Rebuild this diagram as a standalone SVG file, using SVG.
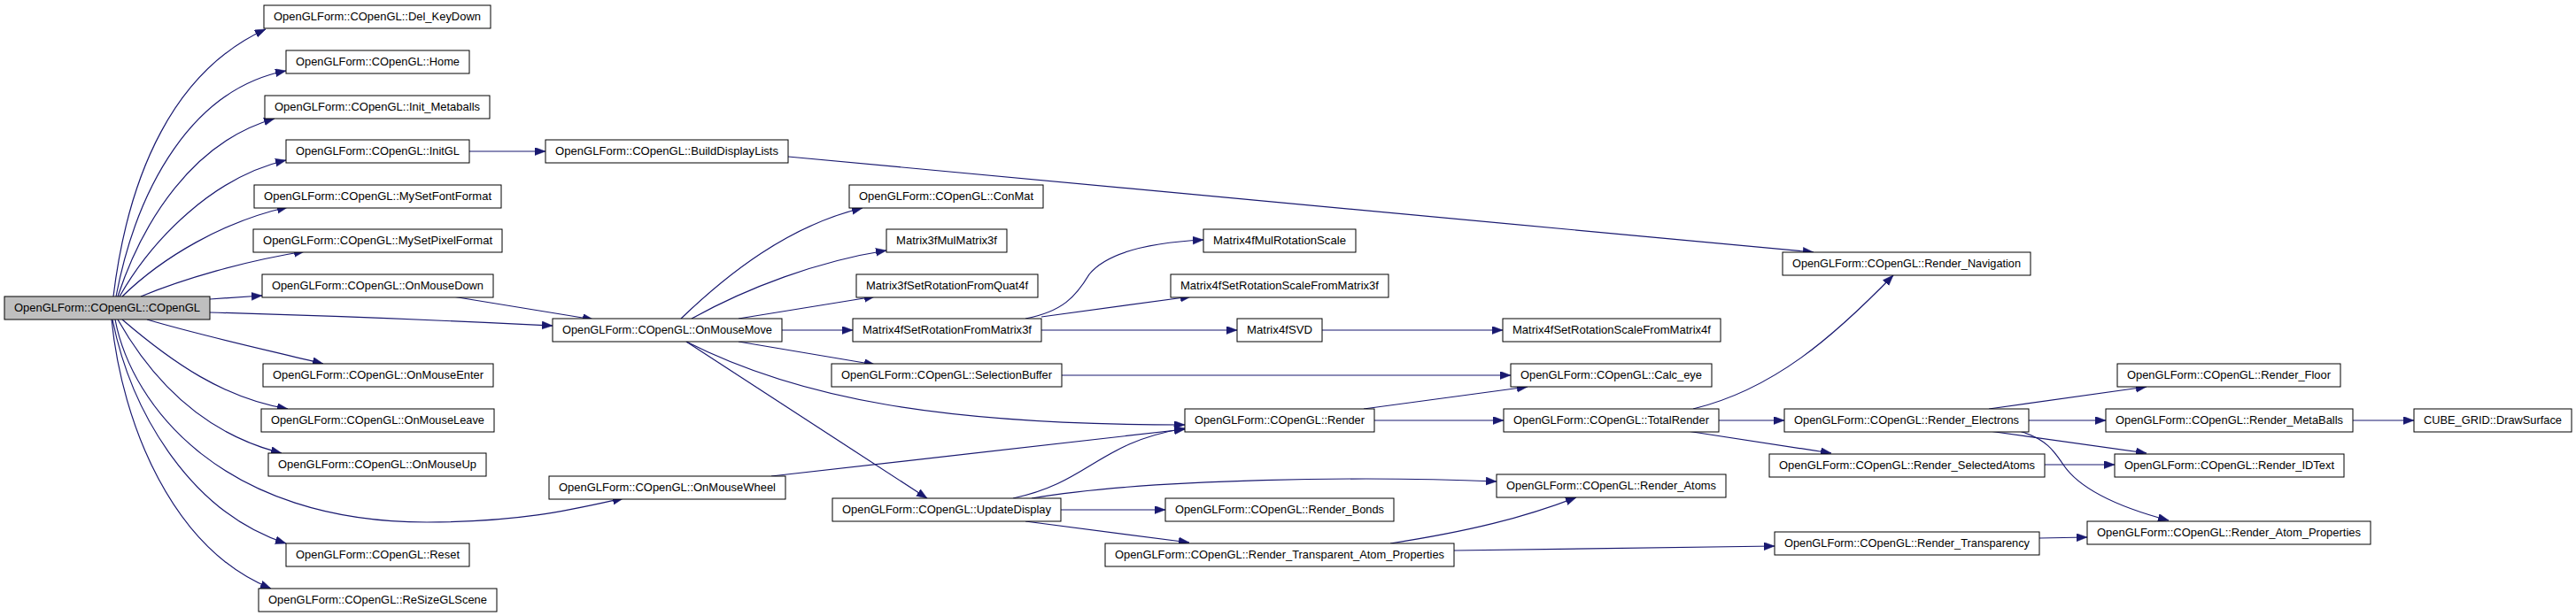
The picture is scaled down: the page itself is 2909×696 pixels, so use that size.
<svg xmlns="http://www.w3.org/2000/svg" width="2909" height="696" viewBox="0 0 2909 696">
<style>
.n rect{fill:#fff;stroke:#000;stroke-width:1}
.n.root rect{fill:#bfbfbf}
.n text{font-family:"Liberation Sans",Arial,sans-serif;font-size:13.33px;fill:#000}
.e path{fill:none;stroke:#191970;stroke-width:1.2;marker-end:url(#ah)}
</style>
<defs>
<marker id="ah" markerUnits="userSpaceOnUse" markerWidth="13" markerHeight="10" refX="12" refY="4.5" orient="auto">
<path d="M0,0 L12,4.5 L0,9 z" fill="#191970" stroke="#191970" stroke-width="0.5"/>
</marker>
</defs>
<rect width="2909" height="696" fill="#fff"/>
<g id="connectors" class="e">
<path d="M128,335 C145,195 197,80 300,33"/>
<path d="M131,335 C155,210 218,100 323,80"/>
<path d="M133,335 C161,250 218,160 310,134"/>
<path d="M135,335 C172,270 241,200 323,181"/>
<path d="M138,335 C184,290 253,250 325,234"/>
<path d="M159,335 C207,315 276,295 344,284"/>
<path d="M237,338 L296,334"/>
<path d="M237,353 C420,358 520,363 624,368"/>
<path d="M166,361 C230,380 300,395 365,411"/>
<path d="M138,361 C195,410 253,450 325,462"/>
<path d="M133,361 C172,430 230,490 318,512"/>
<path d="M130,361 C149,460 253,590 482,590 C590,590 650,575 704,563"/>
<path d="M127,361 C149,470 218,580 323,614"/>
<path d="M126,361 C138,480 195,620 306,665"/>
<path d="M530,171 L616,171"/>
<path d="M890,177 L2048,285"/>
<path d="M511,335 L670,361"/>
<path d="M769,360 C821,310 890,255 974,235"/>
<path d="M781,360 C844,325 924,295 1001,283"/>
<path d="M834,360 L988,335"/>
<path d="M883,373 L963,373"/>
<path d="M834,386 L988,412"/>
<path d="M775,386 C901,450 1062,480 1338,480"/>
<path d="M775,386 L1047,563"/>
<path d="M871,538 L1338,485"/>
<path d="M1144,563 C1230,545 1240,500 1338,484"/>
<path d="M1165,563 C1300,540 1550,538 1690,544"/>
<path d="M1198,576 L1316,576"/>
<path d="M1158,589 L1343,613"/>
<path d="M1158,360 C1200,352 1215,335 1230,310 C1250,285 1300,274 1359,271"/>
<path d="M1176,358 L1345,335"/>
<path d="M1176,373 L1397,373"/>
<path d="M1493,373 L1697,373"/>
<path d="M1199,424 L1706,424"/>
<path d="M1540,462 L1725,437"/>
<path d="M1552,475 L1698,475"/>
<path d="M1912,462 C2003,440 2071,380 2138,311"/>
<path d="M1941,475 L2015,475"/>
<path d="M1905,487 L2068,512"/>
<path d="M2246,462 L2424,437"/>
<path d="M2291,475 L2378,475"/>
<path d="M2246,487 L2424,512"/>
<path d="M2280,487 C2310,495 2320,510 2330,525 C2350,555 2400,575 2449,588"/>
<path d="M2309,525 L2388,525"/>
<path d="M2657,475 L2726,475"/>
<path d="M2303,608 L2357,607"/>
<path d="M1570,614 C1660,600 1720,585 1780,562"/>
<path d="M1642,622 L2004,617"/>
</g>
<g id="COpenGL" class="n root"><rect x="5" y="335" width="232" height="26"/><text x="16" y="351.5" textLength="210" lengthAdjust="spacingAndGlyphs">OpenGLForm::COpenGL::COpenGL</text></g>
<g id="Del_KeyDown" class="n"><rect x="298" y="6" width="256" height="26"/><text x="309" y="22.5" textLength="234" lengthAdjust="spacingAndGlyphs">OpenGLForm::COpenGL::Del_KeyDown</text></g>
<g id="Home" class="n"><rect x="323" y="57" width="207" height="26"/><text x="334" y="73.5" textLength="185" lengthAdjust="spacingAndGlyphs">OpenGLForm::COpenGL::Home</text></g>
<g id="Init_Metaballs" class="n"><rect x="299" y="108" width="254" height="26"/><text x="310" y="124.5" textLength="232" lengthAdjust="spacingAndGlyphs">OpenGLForm::COpenGL::Init_Metaballs</text></g>
<g id="InitGL" class="n"><rect x="323" y="158" width="207" height="26"/><text x="334" y="174.5" textLength="185" lengthAdjust="spacingAndGlyphs">OpenGLForm::COpenGL::InitGL</text></g>
<g id="MySetFontFormat" class="n"><rect x="287" y="209" width="279" height="26"/><text x="298" y="225.5" textLength="257" lengthAdjust="spacingAndGlyphs">OpenGLForm::COpenGL::MySetFontFormat</text></g>
<g id="MySetPixelFormat" class="n"><rect x="286" y="259" width="281" height="26"/><text x="297" y="275.5" textLength="259" lengthAdjust="spacingAndGlyphs">OpenGLForm::COpenGL::MySetPixelFormat</text></g>
<g id="OnMouseDown" class="n"><rect x="296" y="310" width="261" height="26"/><text x="307" y="326.5" textLength="239" lengthAdjust="spacingAndGlyphs">OpenGLForm::COpenGL::OnMouseDown</text></g>
<g id="OnMouseEnter" class="n"><rect x="297" y="411" width="260" height="26"/><text x="308" y="427.5" textLength="238" lengthAdjust="spacingAndGlyphs">OpenGLForm::COpenGL::OnMouseEnter</text></g>
<g id="OnMouseLeave" class="n"><rect x="295" y="462" width="263" height="26"/><text x="306" y="478.5" textLength="241" lengthAdjust="spacingAndGlyphs">OpenGLForm::COpenGL::OnMouseLeave</text></g>
<g id="OnMouseUp" class="n"><rect x="303" y="512" width="246" height="26"/><text x="314" y="528.5" textLength="224" lengthAdjust="spacingAndGlyphs">OpenGLForm::COpenGL::OnMouseUp</text></g>
<g id="Reset" class="n"><rect x="323" y="614" width="207" height="26"/><text x="334" y="630.5" textLength="185" lengthAdjust="spacingAndGlyphs">OpenGLForm::COpenGL::Reset</text></g>
<g id="ReSizeGLScene" class="n"><rect x="292" y="665" width="269" height="26"/><text x="303" y="681.5" textLength="247" lengthAdjust="spacingAndGlyphs">OpenGLForm::COpenGL::ReSizeGLScene</text></g>
<g id="BuildDisplayLists" class="n"><rect x="616" y="158" width="274" height="26"/><text x="627" y="174.5" textLength="252" lengthAdjust="spacingAndGlyphs">OpenGLForm::COpenGL::BuildDisplayLists</text></g>
<g id="OnMouseMove" class="n"><rect x="624" y="360" width="259" height="26"/><text x="635" y="376.5" textLength="237" lengthAdjust="spacingAndGlyphs">OpenGLForm::COpenGL::OnMouseMove</text></g>
<g id="OnMouseWheel" class="n"><rect x="620" y="538" width="267" height="26"/><text x="631" y="554.5" textLength="245" lengthAdjust="spacingAndGlyphs">OpenGLForm::COpenGL::OnMouseWheel</text></g>
<g id="ConMat" class="n"><rect x="959" y="209" width="219" height="26"/><text x="970" y="225.5" textLength="197" lengthAdjust="spacingAndGlyphs">OpenGLForm::COpenGL::ConMat</text></g>
<g id="Matrix3fMulMatrix3f" class="n"><rect x="1001" y="259" width="136" height="26"/><text x="1012" y="275.5" textLength="114" lengthAdjust="spacingAndGlyphs">Matrix3fMulMatrix3f</text></g>
<g id="Matrix3fSetRotationFromQuat4f" class="n"><rect x="967" y="310" width="205" height="26"/><text x="978" y="326.5" textLength="183" lengthAdjust="spacingAndGlyphs">Matrix3fSetRotationFromQuat4f</text></g>
<g id="Matrix4fSetRotationFromMatrix3f" class="n"><rect x="963" y="360" width="213" height="26"/><text x="974" y="376.5" textLength="191" lengthAdjust="spacingAndGlyphs">Matrix4fSetRotationFromMatrix3f</text></g>
<g id="SelectionBuffer" class="n"><rect x="939" y="411" width="260" height="26"/><text x="950" y="427.5" textLength="238" lengthAdjust="spacingAndGlyphs">OpenGLForm::COpenGL::SelectionBuffer</text></g>
<g id="UpdateDisplay" class="n"><rect x="940" y="563" width="258" height="26"/><text x="951" y="579.5" textLength="236" lengthAdjust="spacingAndGlyphs">OpenGLForm::COpenGL::UpdateDisplay</text></g>
<g id="Matrix4fMulRotationScale" class="n"><rect x="1359" y="259" width="172" height="26"/><text x="1370" y="275.5" textLength="150" lengthAdjust="spacingAndGlyphs">Matrix4fMulRotationScale</text></g>
<g id="Matrix4fSetRotationScaleFromMatrix3f" class="n"><rect x="1322" y="310" width="246" height="26"/><text x="1333" y="326.5" textLength="224" lengthAdjust="spacingAndGlyphs">Matrix4fSetRotationScaleFromMatrix3f</text></g>
<g id="Matrix4fSVD" class="n"><rect x="1397" y="360" width="96" height="26"/><text x="1408" y="376.5" textLength="74" lengthAdjust="spacingAndGlyphs">Matrix4fSVD</text></g>
<g id="Render" class="n"><rect x="1338" y="462" width="214" height="26"/><text x="1349" y="478.5" textLength="192" lengthAdjust="spacingAndGlyphs">OpenGLForm::COpenGL::Render</text></g>
<g id="Render_Bonds" class="n"><rect x="1316" y="563" width="258" height="26"/><text x="1327" y="579.5" textLength="236" lengthAdjust="spacingAndGlyphs">OpenGLForm::COpenGL::Render_Bonds</text></g>
<g id="Render_Transparent_Atom_Properties" class="n"><rect x="1248" y="614" width="394" height="26"/><text x="1259" y="630.5" textLength="372" lengthAdjust="spacingAndGlyphs">OpenGLForm::COpenGL::Render_Transparent_Atom_Properties</text></g>
<g id="Render_Navigation" class="n"><rect x="2013" y="285" width="280" height="26"/><text x="2024" y="301.5" textLength="258" lengthAdjust="spacingAndGlyphs">OpenGLForm::COpenGL::Render_Navigation</text></g>
<g id="Matrix4fSetRotationScaleFromMatrix4f" class="n"><rect x="1697" y="360" width="246" height="26"/><text x="1708" y="376.5" textLength="224" lengthAdjust="spacingAndGlyphs">Matrix4fSetRotationScaleFromMatrix4f</text></g>
<g id="Calc_eye" class="n"><rect x="1706" y="411" width="227" height="26"/><text x="1717" y="427.5" textLength="205" lengthAdjust="spacingAndGlyphs">OpenGLForm::COpenGL::Calc_eye</text></g>
<g id="TotalRender" class="n"><rect x="1698" y="462" width="243" height="26"/><text x="1709" y="478.5" textLength="221" lengthAdjust="spacingAndGlyphs">OpenGLForm::COpenGL::TotalRender</text></g>
<g id="Render_Atoms" class="n"><rect x="1690" y="536" width="259" height="26"/><text x="1701" y="552.5" textLength="237" lengthAdjust="spacingAndGlyphs">OpenGLForm::COpenGL::Render_Atoms</text></g>
<g id="Render_Electrons" class="n"><rect x="2015" y="462" width="276" height="26"/><text x="2026" y="478.5" textLength="254" lengthAdjust="spacingAndGlyphs">OpenGLForm::COpenGL::Render_Electrons</text></g>
<g id="Render_SelectedAtoms" class="n"><rect x="1998" y="513" width="311" height="26"/><text x="2009" y="529.5" textLength="289" lengthAdjust="spacingAndGlyphs">OpenGLForm::COpenGL::Render_SelectedAtoms</text></g>
<g id="Render_Transparency" class="n"><rect x="2004" y="601" width="299" height="26"/><text x="2015" y="617.5" textLength="277" lengthAdjust="spacingAndGlyphs">OpenGLForm::COpenGL::Render_Transparency</text></g>
<g id="Render_Floor" class="n"><rect x="2391" y="411" width="252" height="26"/><text x="2402" y="427.5" textLength="230" lengthAdjust="spacingAndGlyphs">OpenGLForm::COpenGL::Render_Floor</text></g>
<g id="Render_MetaBalls" class="n"><rect x="2378" y="462" width="279" height="26"/><text x="2389" y="478.5" textLength="257" lengthAdjust="spacingAndGlyphs">OpenGLForm::COpenGL::Render_MetaBalls</text></g>
<g id="Render_IDText" class="n"><rect x="2388" y="513" width="259" height="26"/><text x="2399" y="529.5" textLength="237" lengthAdjust="spacingAndGlyphs">OpenGLForm::COpenGL::Render_IDText</text></g>
<g id="Render_Atom_Properties" class="n"><rect x="2357" y="589" width="320" height="26"/><text x="2368" y="605.5" textLength="298" lengthAdjust="spacingAndGlyphs">OpenGLForm::COpenGL::Render_Atom_Properties</text></g>
<g id="DrawSurface" class="n"><rect x="2726" y="462" width="178" height="26"/><text x="2737" y="478.5" textLength="156" lengthAdjust="spacingAndGlyphs">CUBE_GRID::DrawSurface</text></g>
</svg>
